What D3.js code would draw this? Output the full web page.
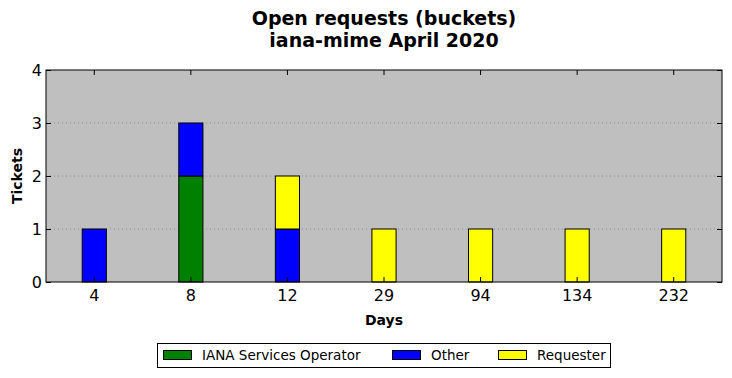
<!DOCTYPE html>
<html><head><meta charset="utf-8">
<script src="https://cdn.jsdelivr.net/npm/d3@7"></script>
<style>body{margin:0;background:#fff}svg{display:block}text{font-family:"DejaVu Sans",sans-serif}</style>
</head><body><svg id="c" width="732" height="378"></svg>
<script>
const categories = ["4","8","12","29","94","134","232"];
const seriesNames = ["IANA Services Operator","Other","Requester"];
const seriesColors = ["#008000","#0000ff","#ffff00"];
const ianaValues = [0,2,0,0,0,0,0];
const otherValues = [1,1,1,0,0,0,0];
const requesterValues = [0,0,1,1,1,1,1];
const yTicks = [0,1,2,3,4];
const titleLines = ["Open requests (buckets)","iana-mime April 2020"];

const svg = d3.select("#c");
const m = {l:46, r:722, t:70, b:282};
const x = d3.scaleBand().domain(categories).range([m.l, m.r]).padding(0);
const y = d3.scaleLinear().domain([0,4]).range([m.b, m.t]);

svg.append("rect").attr("x",m.l).attr("y",m.t).attr("width",m.r-m.l).attr("height",m.b-m.t).attr("fill","#bfbfbf");

// grid
svg.append("g").selectAll("line").data(yTicks.slice(1,-1)).join("line")
  .attr("x1",m.l).attr("x2",m.r).attr("y1",d=>y(d)).attr("y2",d=>y(d))
  .attr("stroke","#8c8c8c").attr("stroke-width",1).attr("stroke-dasharray","1,3");

const rows = categories.map((c,i)=>({cat:c, iana:ianaValues[i], other:otherValues[i], req:requesterValues[i]}));
const stack = d3.stack().keys(["iana","other","req"])(rows);
const bw = x.bandwidth()*0.25;
svg.append("g").selectAll("g").data(stack).join("g").attr("fill",(d,i)=>seriesColors[i])
  .selectAll("rect").data(d=>d.filter(p=>p[1]-p[0]>0)).join("rect")
  .attr("x",d=>x(d.data.cat)+x.bandwidth()/2-bw/2).attr("width",bw)
  .attr("y",d=>y(d[1])).attr("height",d=>y(d[0])-y(d[1]))
  .attr("stroke","#000").attr("stroke-width",1);

// frame
svg.append("rect").attr("x",m.l).attr("y",m.t).attr("width",m.r-m.l).attr("height",m.b-m.t)
  .attr("fill","none").attr("stroke","#000").attr("stroke-width",1);

// axes (inward ticks)
const xb = svg.append("g").attr("transform",`translate(0,${m.b})`).call(d3.axisBottom(x).tickSize(-5).tickPadding(8));
const xt = svg.append("g").attr("transform",`translate(0,${m.t})`).call(d3.axisTop(x).tickSize(-5).tickFormat(""));
const yl = svg.append("g").attr("transform",`translate(${m.l},0)`).call(d3.axisLeft(y).tickValues(yTicks).tickFormat(d3.format("d")).tickSize(-5).tickPadding(4));
const yr = svg.append("g").attr("transform",`translate(${m.r},0)`).call(d3.axisRight(y).tickValues(yTicks).tickSize(-5).tickFormat(""));
[xb,xt,yl,yr].forEach(g=>{g.select(".domain").remove(); g.selectAll("line").attr("stroke","#000");});
[xb,yl].forEach(g=>g.selectAll("text").attr("font-size",16).attr("fill","#000").attr("font-family","DejaVu Sans"));

// titles
svg.append("text").attr("x",384).attr("y",25).attr("text-anchor","middle").attr("font-size",19).attr("font-weight","bold").text(titleLines[0]);
svg.append("text").attr("x",384).attr("y",47).attr("text-anchor","middle").attr("font-size",19).attr("font-weight","bold").text(titleLines[1]);
svg.append("text").attr("x",384).attr("y",325).attr("text-anchor","middle").attr("font-size",14).attr("font-weight","bold").text("Days");
svg.append("text").attr("transform","translate(22,176) rotate(-90)").attr("text-anchor","middle").attr("font-size",14).attr("font-weight","bold").text("Tickets");

// legend
const lg = svg.append("g");
lg.append("rect").attr("x",157.5).attr("y",343.5).attr("width",453).attr("height",24).attr("fill","#fff").attr("stroke","#000");
const lx = [163,392,498];
seriesNames.forEach((n,i)=>{
  lg.append("rect").attr("x",lx[i]+0.5).attr("y",350.5).attr("width",28).attr("height",9).attr("fill",seriesColors[i]).attr("stroke","#000");
  lg.append("text").attr("x",lx[i]+39).attr("y",360).attr("font-size",13.5).text(n);
});
</script></body></html>
